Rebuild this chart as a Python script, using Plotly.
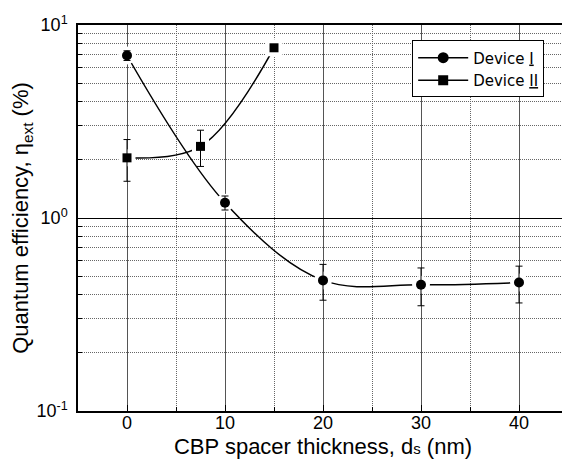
import plotly.graph_objects as go

# Data
x_dev1 = [0, 10, 20, 30, 40]
y_dev1 = [6.95, 1.2, 0.475, 0.451, 0.463]
err_dev1 = [0.4, 0.1, 0.1, 0.1, 0.1]

x_dev2 = [0, 7.5, 15]
y_dev2 = [2.05, 2.35, 7.62]
err_dev2 = [0.5, 0.5, 0.0]

x_ticks = [0, 10, 20, 30, 40]
x_minor = [-5, 5, 15, 25, 35, 45]
y_ticks = [0.1, 1, 10]
y_ticktext = ["10<sup>-1</sup>", "10<sup>0</sup>", "10<sup>1</sup>"]
y_minor = [0.2, 0.3, 0.4, 0.5, 0.6, 0.7, 0.8, 0.9, 2, 3, 4, 5, 6, 7, 8, 9]

series = [
    ("Device <u>I</u>", x_dev1, y_dev1, err_dev1, "circle", 10),
    ("Device <u>II</u>", x_dev2, y_dev2, err_dev2, "square", 9),
]

fig = go.Figure()
for name, xs, ys, es, sym, sz in series:
    fig.add_trace(go.Scatter(x=xs, y=ys, mode="lines", line=dict(color="black", width=1.5, shape="spline", smoothing=1),
                             showlegend=False, hoverinfo="skip"))
    fig.add_trace(go.Scatter(x=xs, y=ys, mode="markers", marker=dict(symbol=sym, size=sz + 8, color="white"),
                             showlegend=False, hoverinfo="skip"))
    fig.add_trace(go.Scatter(x=xs, y=ys, mode="markers", marker=dict(symbol=sym, size=sz, color="black"),
                             error_y=dict(type="data", array=es, color="black", thickness=1, width=3.5),
                             showlegend=False))
    fig.add_trace(go.Scatter(x=[None], y=[None], mode="lines+markers", name=name,
                             line=dict(color="black", width=1.5), marker=dict(symbol=sym, size=sz + 1, color="black")))

# The page body has an 8px margin, so the figure is sized/margined to compensate.
fig.update_layout(
    width=562, height=453,
    margin=dict(l=70, r=2, t=17, b=50),
    paper_bgcolor="white", plot_bgcolor="white",
    font=dict(family="Liberation Sans, Arial, sans-serif", size=18, color="black"),
    legend=dict(x=0.682, y=0.96, xanchor="left", yanchor="top",
                bgcolor="white", bordercolor="black", borderwidth=1,
                font=dict(family="DejaVu Sans", size=15, color="black"),
                tracegroupgap=0, itemwidth=50),
    xaxis=dict(range=[-5, 45], tickmode="array", tickvals=x_ticks, ticks="inside", ticklen=6,
               tickcolor="black", showline=True, linecolor="black", linewidth=1.5, mirror=True,
               showgrid=True, gridcolor="#555555", gridwidth=1, zeroline=False, automargin=False,
               ticklabelstandoff=-5,
               minor=dict(tickmode="array", tickvals=x_minor, ticks="inside", ticklen=4, tickcolor="black",
                          showgrid=True, gridcolor="#666666", griddash="1px,1px", gridwidth=1),
               title=dict(text="CBP spacer thickness, d<span style='font-size:15px'>s</span> (nm)",
                          font=dict(size=22), standoff=6),
               tickfont=dict(size=18)),
    yaxis=dict(type="log", range=[-1, 1], tickmode="array", tickvals=y_ticks, ticktext=y_ticktext,
               ticks="inside", ticklen=6, tickcolor="black", showline=True, linecolor="black",
               linewidth=1.5, mirror=True, showgrid=True, gridcolor="black", gridwidth=1, zeroline=False,
               automargin=False, ticklabelstandoff=5,
               minor=dict(tickmode="array", tickvals=y_minor, ticks="inside", ticklen=4, tickcolor="black",
                          showgrid=True, gridcolor="#666666", griddash="1px,1px", gridwidth=1),
               title=dict(text="Quantum efficiency, η<sub>ext</sub> (%)", font=dict(size=22), standoff=4),
               tickfont=dict(size=18)),
)

fig.write_html("out.html")
